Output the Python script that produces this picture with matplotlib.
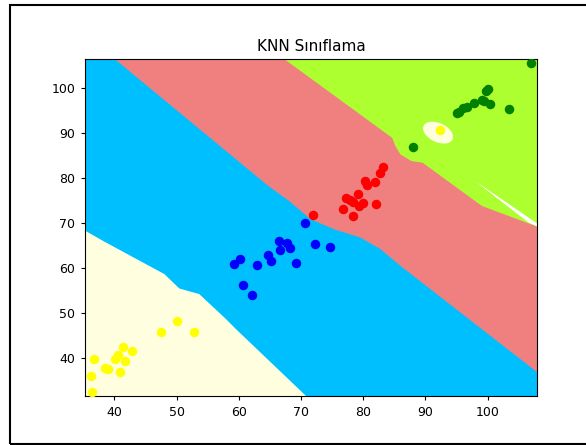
import numpy as np
import matplotlib
matplotlib.use("Agg")
import matplotlib.pyplot as plt
from matplotlib.patches import Rectangle

# ---- scatter data ----
yellow_x = [36.38, 36.22, 36.75, 38.46, 39.05, 40.12, 40.66, 40.87, 41.45, 41.72, 42.84, 47.55, 50.11, 52.88, 92.28]
yellow_y = [32.61, 36.09, 39.85, 37.92, 37.63, 39.85, 40.73, 36.90, 42.57, 39.34, 41.69, 45.88, 48.31, 45.88, 90.56]

blue_x = [59.18, 60.26, 60.69, 62.13, 62.93, 64.70, 65.22, 66.40, 66.67, 67.74, 68.27, 69.23, 70.67, 72.27, 74.68]
blue_y = [61.00, 62.11, 56.36, 54.00, 60.63, 63.00, 61.52, 66.00, 63.95, 65.65, 64.55, 61.14, 69.99, 65.43, 64.68]

red_x = [71.86, 76.81, 77.24, 77.88, 78.31, 78.41, 79.21, 79.37, 79.92, 80.28, 80.66, 81.89, 82.05, 82.69, 83.12]
red_y = [71.77, 73.08, 75.60, 75.00, 71.53, 74.63, 76.33, 73.75, 74.50, 79.27, 78.48, 79.05, 74.28, 81.20, 82.53]

green_x = [87.93, 95.08, 95.40, 96.04, 96.68, 97.76, 99.04, 99.36, 99.79, 100.10, 100.32, 103.41, 107.00]
green_y = [86.79, 94.40, 94.69, 95.42, 95.80, 96.53, 97.27, 97.12, 99.26, 99.63, 96.39, 95.35, 105.46]

# ---- decision-region boundaries ----
yb_bx = [35.0, 38.09, 47.96, 50.37, 53.57, 57.85, 59.45, 70.67, 71.5]
yb_by = [68.6, 66.16, 58.80, 55.61, 54.37, 48.85, 46.63, 31.88, 30.8]

br_bx = [39.3, 40.20, 64.53, 68.00, 71.47, 75.20, 79.48, 82.69, 85.90, 108.5]
br_by = [107.3, 106.20, 78.48, 75.00, 70.96, 68.75, 66.89, 64.33, 60.63, 36.4]

rg_bx = [66.5, 67.47, 84.57, 85.10, 85.90, 87.66, 89.47, 98.99, 108.5]
rg_by = [107.3, 106.20, 89.00, 87.17, 85.33, 83.85, 83.48, 73.90, 69.0]

sliver_x = [97.9, 108.5, 108.5, 106.5]
sliver_y = [79.4, 69.4, 68.9, 70.2]

ellipse_center = [92.03, 90.04]
ellipse_u = [2.32, -1.50]
ellipse_v = [0.64, 1.90]

fig = plt.figure(figsize=(5.86, 4.45), dpi=100)
ax = fig.add_axes([0.1444, 0.1094, 0.7727, 0.7591])

xmin, xmax = min(yellow_x) - 1, max(green_x) + 1
ymin, ymax = min(yellow_y) - 1, max(green_y) + 1

ax.set_facecolor('deepskyblue')
ax.fill_between(yb_bx, ymin - 5, yb_by, color='lightyellow', lw=0, zorder=1)
ax.fill_between(br_bx, br_by, ymax + 5, color='lightcoral', lw=0, zorder=1)
ax.fill_between(rg_bx, rg_by, ymax + 5, color='greenyellow', lw=0, zorder=1.1)
ax.fill(sliver_x, sliver_y, color='white', lw=0, zorder=1.2)
t = np.linspace(0, 2 * np.pi, 100)
ex = ellipse_center[0] + ellipse_u[0] * np.cos(t) + ellipse_v[0] * np.sin(t)
ey = ellipse_center[1] + ellipse_u[1] * np.cos(t) + ellipse_v[1] * np.sin(t)
ax.fill(ex, ey, color='lightyellow', lw=0, zorder=1.2)

s = 34
ax.scatter(yellow_x, yellow_y, c='yellow', s=s, zorder=3)
ax.scatter(blue_x, blue_y, c='blue', s=s, zorder=3)
ax.scatter(red_x, red_y, c='red', s=s, zorder=3)
ax.scatter(green_x, green_y, c='green', s=s, zorder=3)

ax.set_xlim(xmin, xmax)
ax.set_ylim(ymin, ymax)
ax.set_xticks([40, 50, 60, 70, 80, 90, 100])
ax.set_yticks([40, 50, 60, 70, 80, 90, 100])
ax.tick_params(labelsize=9, length=3.2)
ax.set_title('KNN Sınıflama', fontsize=11, pad=5.5)

fig.patches.append(Rectangle((10 / 586, 1.5 / 445), 1.2, 1 - 6.5 / 445, transform=fig.transFigure,
                             fill=False, edgecolor='black', lw=1.5, zorder=10))

fig.savefig('out.png', dpi=100)
